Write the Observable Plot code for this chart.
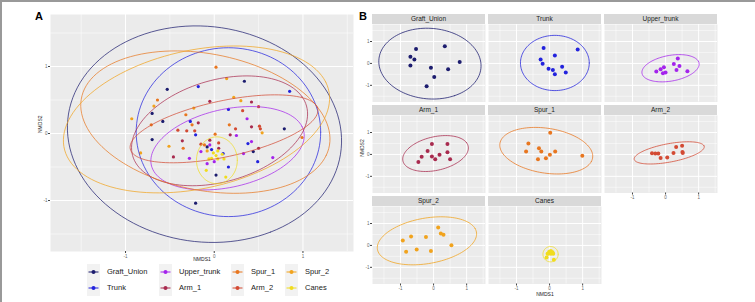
<!DOCTYPE html>
<html>
<head>
<meta charset="utf-8">
<script src="https://cdn.jsdelivr.net/npm/d3@7"></script>
<script src="https://cdn.jsdelivr.net/npm/@observablehq/plot@0.6"></script>
<style>
  body { margin: 0; background: #fff; }
  #fig { position: relative; width: 755px; height: 302px; overflow: hidden; font-family: "Liberation Sans", Arial, sans-serif; }
  .abs { position: absolute; }
  .strip { position: absolute; background: #d9d9d9; color: #1a1a1a; font-size: 6.5px; line-height: 10px; height: 10px; text-align: center; }
  .tag { position: absolute; font-weight: bold; font-size: 11px; color: #000; }
  .leg { position: absolute; font-size: 7.5px; color: #222; line-height: 10px; }
</style>
</head>
<body>
<div id="fig"></div>
<script>
// Sample groups, in legend / facet order
const groups = ["Graft_Union", "Trunk", "Upper_trunk", "Arm_1", "Spur_1", "Arm_2", "Spur_2", "Canes"];
const groupColors = ["#1c1c6e", "#2222dd", "#a423ec", "#a82a4e", "#e8761f", "#d34a33", "#f1a31d", "#f0dc1e"];

// NMDS coordinates of each sample
const graftUnionX = [-0.53, 0.34, -0.70, -0.58, -0.70, 0.79, -0.08, 0.44, 0.02, -0.21];
const graftUnionY = [0.66, 0.78, 0.30, 0.18, -0.09, 0.07, -0.20, -0.27, -0.62, -1.04];
const trunkX = [-0.18, 0.85, 0.16, -0.27, -0.21, -0.03, 0.10, 0.38, 0.49, 0.16];
const trunkY = [0.70, 0.63, 0.36, 0.18, -0.02, -0.24, -0.30, -0.15, -0.42, -0.50];
const upperTrunkX = [0.37, 0.25, 0.42, -0.05, -0.15, 0.33, -0.28, 0.00, -0.08, 0.66];
const upperTrunkY = [0.22, -0.03, -0.12, -0.17, -0.27, -0.30, -0.37, -0.42, -0.45, -0.36];
const arm1X = [-0.05, 0.42, -0.18, -0.36, -0.46, -0.05, 0.05, 0.18, 0.42, 0.50];
const arm1Y = [0.48, 0.47, 0.16, -0.11, -0.35, -0.10, -0.22, -0.02, 0.10, -0.22];
const spur1X = [0.02, -0.64, -0.32, -0.71, -0.25, 0.17, 0.01, 0.99, -0.11, -0.35];
const spur1Y = [0.99, 0.50, 0.28, 0.13, 0.13, 0.13, -0.01, -0.06, -0.17, -0.22];
const arm2X = [-0.41, -0.31, -0.22, -0.15, 0.05, 0.24, 0.32, 0.50, 0.51, 0.52];
const arm2Y = [0.05, 0.04, 0.04, -0.16, -0.14, 0.07, 0.34, 0.40, 0.11, 0.07];
const spur2X = [0.14, 0.22, 0.30, -0.68, -0.23, -0.93, 0.54, -0.51, -0.83, -0.08];
const spur2Y = [0.82, 0.54, 0.49, 0.41, 0.38, 0.22, 0.01, -0.19, -0.29, -0.26];
const canesX = [-0.06, -0.01, 0.04, 0.09, -0.03, 0.04, -0.09, 0.13, 0.02, 0.11];
const canesY = [-0.38, -0.29, -0.26, -0.31, -0.37, -0.38, -0.55, -0.65, -0.33, -0.38];

// 95% ellipse of each group: centre, semi-axes and rotation (degrees)
const ellipseCx = [-0.11, 0.16, 0.15, 0.06, -0.10, 0.11, -0.20, 0.03];
const ellipseCy = [-0.01, 0.02, -0.22, 0.04, 0.17, 0.07, 0.21, -0.40];
const ellipseA = [1.64, 1.04, 0.90, 1.06, 1.45, 1.10, 1.56, 0.23];
const ellipseB = [1.52, 1.26, 0.57, 0.73, 1.00, 0.41, 1.01, 0.35];
const ellipseAngle = [-63, 0, 21, 29, -20, 17, 21, 0];

// Axis ticks
const majorTicks = [-1, 0, 1];
const minorTicks = [-1.5, -0.5, 0.5, 1.5];

const xsByGroup = [graftUnionX, trunkX, upperTrunkX, arm1X, spur1X, arm2X, spur2X, canesX];
const ysByGroup = [graftUnionY, trunkY, upperTrunkY, arm1Y, spur1Y, arm2Y, spur2Y, canesY];

const samples = groups.flatMap((g, i) =>
  xsByGroup[i].map((x, j) => ({group: g, nmds1: x, nmds2: ysByGroup[i][j]})));

function ellipseOutline(i) {
  const th = ellipseAngle[i] * Math.PI / 180;
  return d3.range(0, 121).map(k => {
    const t = 2 * Math.PI * k / 120;
    const u = ellipseA[i] * Math.cos(t), v = ellipseB[i] * Math.sin(t);
    return {
      group: groups[i],
      nmds1: ellipseCx[i] + u * Math.cos(th) - v * Math.sin(th),
      nmds2: ellipseCy[i] + u * Math.sin(th) + v * Math.cos(th)
    };
  });
}
const ellipses = groups.flatMap((g, i) => ellipseOutline(i));

const xDomain = [-1.846, 1.57];
const yDomain = [-1.761, 1.776];
const colorScale = {domain: groups, range: groupColors};
const FONT = "Liberation Sans, Arial, sans-serif";

const fig = document.getElementById("fig");

function place(el, left, top) {
  el.style.position = "absolute";
  el.style.left = left + "px";
  el.style.top = top + "px";
  fig.appendChild(el);
  return el;
}

function backgroundMarks() {
  return [
    Plot.frame({fill: "#ebebeb"}),
    Plot.ruleX(minorTicks, {x: d => d, stroke: "#fff", strokeWidth: 0.5}),
    Plot.ruleY(minorTicks, {y: d => d, stroke: "#fff", strokeWidth: 0.5}),
    Plot.ruleX(majorTicks, {x: d => d, stroke: "#fff", strokeWidth: 1}),
    Plot.ruleY(majorTicks, {y: d => d, stroke: "#fff", strokeWidth: 1})
  ];
}

function axisMarks(showX, showY) {
  const m = [];
  if (showX) m.push(Plot.axisX(majorTicks, {tickSize: 2, tickPadding: 1, fontSize: 4.5, tickFormat: d => String(d), label: null, stroke: "#444", fill: "#666"}));
  if (showY) m.push(Plot.axisY(majorTicks, {tickSize: 2, tickPadding: 1, fontSize: 4.5, tickFormat: d => String(d), label: null, stroke: "#444", fill: "#666"}));
  return m;
}

// Panel A: all samples with one ellipse per group
const panelA = Plot.plot({
  width: 358, height: 262,
  marginLeft: 50, marginTop: 14, marginRight: 5, marginBottom: 11,
  x: {domain: xDomain, axis: null},
  y: {domain: yDomain, axis: null},
  color: colorScale,
  style: {background: "transparent", overflow: "visible", fontFamily: FONT},
  marks: [
    ...backgroundMarks(),
    Plot.dot(samples, {x: "nmds1", y: "nmds2", fill: "group", r: 1.6}),
    Plot.line(ellipses, {x: "nmds1", y: "nmds2", z: "group", stroke: "group", strokeWidth: 0.9, strokeOpacity: 0.8}),
    ...axisMarks(true, true),
    Plot.text(["NMDS1"], {text: d => d, frameAnchor: "bottom", dy: 9, fontSize: 5, fill: "#222"}),
    Plot.text(["NMDS2"], {text: d => d, frameAnchor: "left", dx: -10, rotate: -90, fontSize: 5, fill: "#222"})
  ]
});
place(panelA, 0, 0);

// Panel B: one facet per group
const facetRow = [0, 0, 0, 1, 1, 1, 2, 2];
const facetCol = [0, 1, 2, 0, 1, 2, 0, 1];
const colLeft = [372, 488, 604];
const rowTop = [24, 115, 206];
const panelW = 113, panelH = 77.5;

groups.forEach((g, i) => {
  const r = facetRow[i], c = facetCol[i];
  const showX = r === 2 || (r === 1 && c === 2);
  const showY = c === 0;
  const mL = 14, mT = 1, mR = 1, mB = 12;
  const chart = Plot.plot({
    width: panelW + mL + mR, height: panelH + mT + mB,
    marginLeft: mL, marginTop: mT, marginRight: mR, marginBottom: mB,
    x: {domain: xDomain, axis: null},
    y: {domain: yDomain, axis: null},
    color: colorScale,
    style: {background: "transparent", overflow: "visible", fontFamily: FONT},
    marks: [
      ...backgroundMarks(),
      Plot.dot(samples.filter(d => d.group === g), {x: "nmds1", y: "nmds2", fill: "group", r: 2}),
      Plot.line(ellipseOutline(i), {x: "nmds1", y: "nmds2", stroke: "group", strokeWidth: 0.9, strokeOpacity: 0.85}),
      ...axisMarks(showX, showY)
    ]
  });
  place(chart, colLeft[c] - mL, rowTop[r] - mT);
  const strip = document.createElement("div");
  strip.className = "strip";
  strip.textContent = g;
  strip.style.width = panelW + "px";
  place(strip, colLeft[c], rowTop[r] - 10);
});

// Axis titles of panel B
const bx = document.createElement("div");
bx.className = "abs";
bx.style.cssText = "font-size:5px;color:#222;width:60px;text-align:center;";
bx.textContent = "NMDS1";
place(bx, 515, 291);
const by = document.createElement("div");
by.className = "abs";
by.style.cssText = "font-size:5px;color:#222;width:40px;text-align:center;transform:rotate(-90deg);transform-origin:center;";
by.textContent = "NMDS2";
place(by, 342, 145);

// Panel tags
const tagA = document.createElement("div"); tagA.className = "tag"; tagA.textContent = "A"; place(tagA, 35, 10);
const tagB = document.createElement("div"); tagB.className = "tag"; tagB.textContent = "B"; place(tagB, 359, 10);

// Legend (two rows, filled by column)
const legKeyX = [93, 165, 237, 291];
const legRowY = [272, 288];
groups.forEach((g, i) => {
  const c = Math.floor(i / 2), r = i % 2;
  const key = d3.create("svg").attr("width", 13).attr("height", 16);
  key.append("rect").attr("width", 13).attr("height", 16).attr("fill", "#f2f2f2");
  key.append("line").attr("x1", 1.5).attr("x2", 11.5).attr("y1", 8).attr("y2", 8)
    .attr("stroke", groupColors[i]).attr("stroke-width", 1);
  key.append("circle").attr("cx", 6.5).attr("cy", 8).attr("r", 2).attr("fill", groupColors[i]);
  place(key.node(), legKeyX[c] - 6.5, legRowY[r] - 8);
  const lab = document.createElement("div");
  lab.className = "leg";
  lab.textContent = g;
  place(lab, legKeyX[c] + 14, legRowY[r] - 5);
});

// Figure frame (top and left edges)
const ft = document.createElement("div"); ft.style.cssText = "width:755px;height:2px;background:#999;"; place(ft, 0, 0);
const fl = document.createElement("div"); fl.style.cssText = "width:2px;height:302px;background:#999;"; place(fl, 0, 0);
</script>
</body>
</html>
